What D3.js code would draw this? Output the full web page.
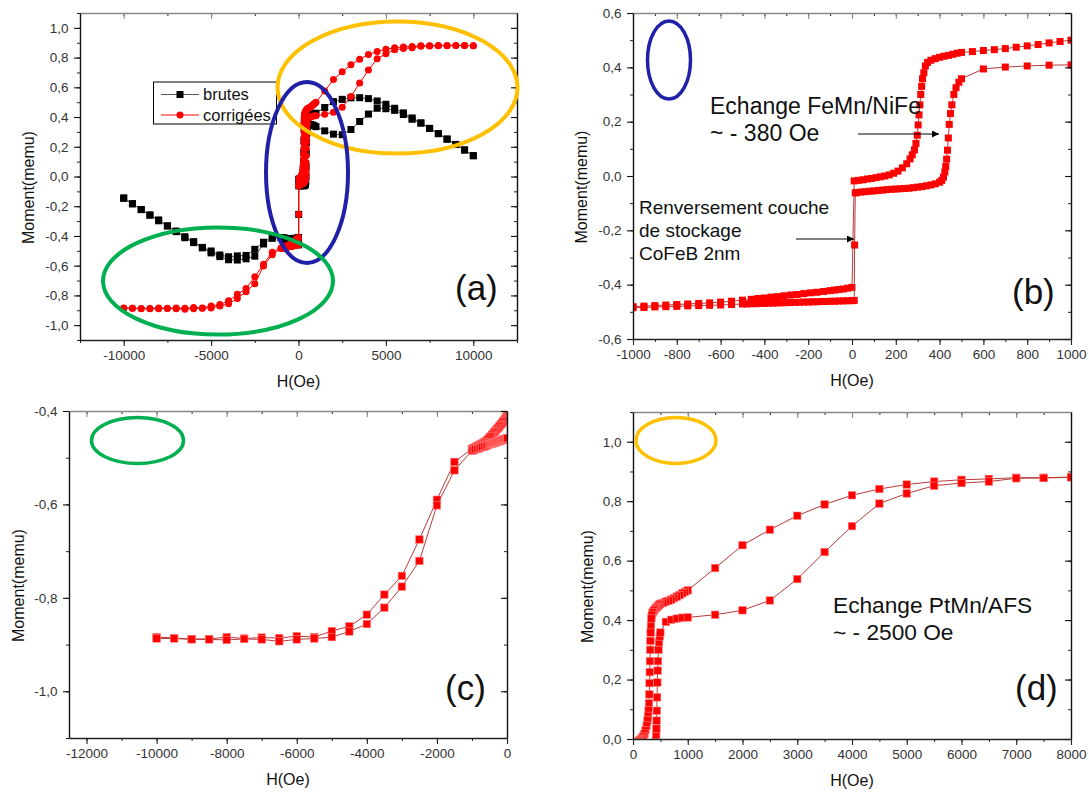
<!DOCTYPE html>
<html><head><meta charset="utf-8">
<script src="https://cdn.jsdelivr.net/npm/d3@7"></script>
<style>
html,body{margin:0;padding:0;background:#fff;}
svg{display:block;font-family:"Liberation Sans",Arial,Helvetica,sans-serif;}
</style></head><body>
<svg id="fig" width="1089" height="792"></svg>
<script>
// ---------- corrected data (descending branch: +10000 -> -10000) ----------
const descH = [10000,9500,9000,8500,8000,7500,7000,6500,6000,5500,5000,4500,4000,3500,3000,2500,2000,1500,1000,
  950,900,850,800,750,700,650,600,550,500,
  480,460,440,420,400,380,360,
  345,335,328,322,318,314,310,306,302,298,292,285,275,265,250,230,210,190,170,150,130,110,90,70,50,30,10,
  0,-20,-40,-60,-80,-100,
  -130,-160,-190,-220,-250,-280,-310,-340,-370,-400,-430,-460,-500,
  -550,-600,-650,-700,-750,-800,-850,-900,-950,-1000,
  -1500,-2000,-2500,-3000,-3500,-4000,-4500,-5000,-5500,-6000,-6500,-7000,-7500,-8000,-8500,-9000,-9500,-10000];
const descM = [0.880,0.882,0.882,0.881,0.881,0.879,0.879,0.875,0.872,0.866,0.856,0.841,0.820,0.789,0.751,0.704,0.652,0.575,0.500,
  0.495,0.490,0.484,0.479,0.474,0.469,0.465,0.462,0.458,0.455,
  0.452,0.448,0.444,0.441,0.437,0.432,0.426,
  0.418,0.405,0.380,0.358,0.330,0.300,0.262,0.225,0.188,0.150,0.120,0.096,0.078,0.063,0.045,0.030,0.018,0.010,0.004,0.000,-0.003,-0.006,-0.009,-0.011,-0.014,-0.016,-0.018,
  -0.410,-0.413,-0.416,-0.418,-0.420,-0.422,
  -0.425,-0.428,-0.430,-0.433,-0.436,-0.438,-0.441,-0.444,-0.446,-0.449,-0.451,-0.454,-0.457,
  -0.461,-0.464,-0.467,-0.469,-0.471,-0.473,-0.475,-0.477,-0.479,-0.481,
  -0.509,-0.590,-0.675,-0.753,-0.793,-0.836,-0.861,-0.871,-0.884,-0.882,-0.886,-0.885,-0.887,-0.884,-0.888,-0.888,-0.886,-0.884];

// ---------- corrected data (ascending branch: -10000 -> +10000) ----------
const ascH = [-10000,-9500,-9000,-8500,-8000,-7500,-7000,-6500,-6000,-5500,-5000,-4500,-4000,-3500,-3000,-2500,-2000,-1500,-1000,
  -950,-900,-850,-800,-750,-700,-650,-600,-550,
  -500,-480,-460,-440,-420,-400,-380,-360,-340,-320,-300,-280,-260,-240,-220,-200,-180,-160,-140,-120,-100,-80,-60,-40,-20,0,10,
  12,15,
  20,40,60,80,100,120,140,160,180,200,220,240,260,280,300,320,340,360,380,400,
  410,418,424,428,432,436,440,444,450,456,465,475,488,500,
  600,700,800,900,1000,1500,2000,2500,3000,3500,4000,4500,5000,5500,6000,6500,7000,7500,8000,8500,9000,9500,10000];
const ascM = [-0.887,-0.887,-0.889,-0.889,-0.890,-0.888,-0.889,-0.893,-0.889,-0.887,-0.884,-0.872,-0.856,-0.821,-0.776,-0.721,-0.602,-0.527,-0.485,
  -0.484,-0.482,-0.481,-0.480,-0.478,-0.477,-0.476,-0.475,-0.473,
  -0.471,-0.471,-0.470,-0.470,-0.469,-0.469,-0.468,-0.468,-0.467,-0.467,-0.466,-0.466,-0.465,-0.465,-0.464,-0.464,-0.463,-0.463,-0.462,-0.462,-0.461,-0.461,-0.460,-0.460,-0.459,-0.459,-0.458,
  -0.254,-0.062,
  -0.061,-0.059,-0.058,-0.056,-0.055,-0.053,-0.052,-0.050,-0.049,-0.048,-0.047,-0.046,-0.045,-0.043,-0.041,-0.039,-0.036,-0.033,-0.029,-0.023,
  -0.016,-0.004,0.015,0.035,0.062,0.095,0.140,0.190,0.230,0.262,0.300,0.325,0.345,0.358,
  0.394,0.401,0.405,0.408,0.409,0.418,0.433,0.466,0.538,0.629,0.716,0.792,0.826,0.852,0.861,0.866,0.877,0.878,0.880,0.880,0.881,0.881,0.880];

// ---------- raw data "brutes" (panel a) ----------
const rawDescH = [10000,9500,9000,8500,8000,7500,7000,6500,6000,5500,5000,4500,4000,3500,3000,2500,2000,1500,1000,
  900,800,700,600,500,400,350,330,320,310,300,290,270,240,200,150,100,50,10,
  0,-100,-200,-300,-400,-500,-600,-700,-800,-900,-1000,
  -1500,-2000,-2500,-3000,-3500,-4000,-4500,-5000,-5500,-6000,-6500,-7000,-7500,-8000,-8500,-9000,-9500,-10000];
const rawDescM = [0.140,0.179,0.216,0.252,0.289,0.324,0.361,0.394,0.428,0.459,0.486,0.508,0.524,0.530,0.529,0.519,0.504,0.464,0.426,
  0.423,0.420,0.417,0.418,0.418,0.407,0.395,0.372,0.322,0.240,0.160,0.100,0.055,0.020,-0.002,-0.011,-0.014,-0.017,-0.019,
  -0.410,-0.415,-0.416,-0.419,-0.419,-0.420,-0.420,-0.417,-0.414,-0.412,-0.410,
  -0.405,-0.442,-0.490,-0.531,-0.534,-0.540,-0.528,-0.501,-0.477,-0.438,-0.405,-0.367,-0.332,-0.292,-0.259,-0.222,-0.183,-0.144];
const rawAscH = [-10000,-9500,-9000,-8500,-8000,-7500,-7000,-6500,-6000,-5500,-5000,-4500,-4000,-3500,-3000,-2500,-2000,-1500,-1000,
  -900,-800,-700,-600,-500,-400,-300,-200,-100,0,10,12,15,
  100,200,300,360,400,418,428,436,444,456,475,500,
  600,700,800,900,1000,1500,2000,2500,3000,3500,4000,4500,5000,5500,6000,6500,7000,7500,8000,8500,9000,9500,10000];
const rawAscM = [-0.147,-0.184,-0.223,-0.260,-0.298,-0.333,-0.371,-0.412,-0.445,-0.480,-0.514,-0.539,-0.560,-0.562,-0.554,-0.536,-0.454,-0.416,-0.411,
  -0.415,-0.421,-0.425,-0.431,-0.434,-0.439,-0.444,-0.449,-0.454,-0.459,-0.459,-0.255,-0.063,
  -0.062,-0.063,-0.063,-0.060,-0.053,-0.035,0.003,0.063,0.157,0.228,0.290,0.321,
  0.350,0.349,0.346,0.341,0.335,0.307,0.285,0.281,0.316,0.370,0.420,0.459,0.456,0.445,0.417,0.385,0.359,0.323,0.288,0.251,0.215,0.178,0.140];

// ---------- tick label values ----------
const aXTicks = [-10000,-5000,0,5000,10000];
const aYTicks = [-1.0,-0.8,-0.6,-0.4,-0.2,0,0.2,0.4,0.6,0.8,1.0];
const bXTicks = [-1000,-800,-600,-400,-200,0,200,400,600,800,1000];
const bYTicks = [-0.6,-0.4,-0.2,0,0.2,0.4,0.6];
const cXTicks = [-12000,-10000,-8000,-6000,-4000,-2000,0];
const cYTicks = [-1.0,-0.8,-0.6,-0.4];
const dXTicks = [0,1000,2000,3000,4000,5000,6000,7000,8000];
const dYTicks = [0,0.2,0.4,0.6,0.8,1.0];

const legendLabels = ["brutes","corrigées"];
const xTitle = "H(Oe)", yTitle = "Moment(memu)";

// ---------- drawing ----------
const svg = d3.select('#fig');
const defs = svg.append('defs');
defs.append('marker').attr('id','arrowHead').attr('viewBox','0 0 10 10').attr('refX',10).attr('refY',5)
  .attr('markerWidth',10).attr('markerHeight',7).attr('markerUnits','userSpaceOnUse').attr('orient','auto')
  .append('path').attr('d','M0,0 L10,5 L0,10 Z').attr('fill','#000');

const fmtY = v => Math.abs(v) < 1e-9 ? '0,0' : v.toFixed(1).replace('.', ',');
const fmtX = v => String(Math.round(v));
const minorRange = (a, b, s) => d3.range(Math.round(a / s), Math.round(b / s) + 1).map(i => i * s);

function drawPanel(p) {
  const x = d3.scaleLinear().domain(p.xDomain).range(p.xRange);
  const y = d3.scaleLinear().domain(p.yDomain).range(p.yRange);
  const [xl, xr] = p.xRange, [yb, yt] = p.yRange;
  const g = svg.append('g');
  const clipId = 'clip-' + p.name;
  defs.append('clipPath').attr('id', clipId).append('rect')
    .attr('x', xl).attr('y', yt).attr('width', xr - xl).attr('height', yb - yt);
  const dg = g.append('g').attr('clip-path', `url(#${clipId})`);
  p.series.forEach(s => {
    const pts = d3.zip(s.h, s.m);
    dg.append('path').datum(pts)
      .attr('d', d3.line().x(d => x(d[0])).y(d => y(d[1])))
      .attr('fill', 'none').attr('stroke', s.lineColor).attr('stroke-width', s.lineWidth);
    const mg = dg.append('g');
    if (s.marker === 'circle') {
      mg.selectAll('circle').data(pts).join('circle')
        .attr('cx', d => x(d[0])).attr('cy', d => y(d[1])).attr('r', s.size / 2).attr('fill', s.color);
    } else {
      mg.selectAll('rect').data(pts).join('rect')
        .attr('x', d => x(d[0]) - s.size / 2).attr('y', d => y(d[1]) - s.size / 2)
        .attr('width', s.size).attr('height', s.size).attr('fill', s.color)
        .attr('stroke', s.stroke || 'none').attr('stroke-width', 0.6);
    }
  });

  const xMinor = minorRange(p.xDomain[0], p.xDomain[1], p.xMinorStep);
  const yMinor = minorRange(p.yDomain[0], p.yDomain[1], p.yMinorStep);
  const styleAxis = (sel, color) => {
    sel.attr('font-size', 13.5).attr('font-family', null).attr('color', color);
    sel.selectAll('text').attr('fill', '#333');
    sel.selectAll('line').attr('stroke-width', 1.1);
    sel.select('.domain').attr('stroke-width', 1.4);
  };
  // minor ticks
  [[d3.axisBottom(x).tickValues(xMinor).tickSize(3), `translate(0,${yb})`],
   [d3.axisTop(x).tickValues(xMinor).tickSize(-3), `translate(0,${yt})`],
   [d3.axisLeft(y).tickValues(yMinor).tickSize(3), `translate(${xl},0)`],
   [d3.axisRight(y).tickValues(yMinor).tickSize(-3), `translate(${xr},0)`]].forEach(([ax, tr]) => {
    const a = g.append('g').attr('transform', tr).call(ax.tickFormat(''));
    a.select('.domain').remove();
    a.attr('color', '#222'); a.selectAll('line').attr('stroke-width', 1);
  });
  // major axes
  g.append('g').attr('transform', `translate(0,${yt})`)
    .call(d3.axisTop(x).tickValues(p.xTicks).tickSizeInner(-6).tickSizeOuter(0).tickFormat(''))
    .call(s => styleAxis(s, '#888'));
  g.append('g').attr('transform', `translate(${xr},0)`)
    .call(d3.axisRight(y).tickValues(p.yTicks).tickSizeInner(-6).tickSizeOuter(0).tickFormat(''))
    .call(s => styleAxis(s, '#111'));
  g.append('g').attr('transform', `translate(0,${yb})`)
    .call(d3.axisBottom(x).tickValues(p.xTicks).tickSizeInner(6).tickSizeOuter(0).tickPadding(4.5).tickFormat(fmtX))
    .call(s => styleAxis(s, '#222'));
  g.append('g').attr('transform', `translate(${xl},0)`)
    .call(d3.axisLeft(y).tickValues(p.yTicks).tickSizeInner(6).tickSizeOuter(0).tickPadding(5.5).tickFormat(fmtY))
    .call(s => styleAxis(s, '#111'));

  // titles
  g.append('text').attr('x', (xl + xr) / 2).attr('y', yb + 47).attr('text-anchor', 'middle')
    .attr('font-size', 16).attr('fill', '#111').text(xTitle);
  g.append('text').attr('transform', `translate(${p.yTitleX},${(yb + yt) / 2 + 11}) rotate(-90)`)
    .attr('text-anchor', 'middle').attr('dy', '0.35em').attr('font-size', 16).attr('fill', '#111').text(yTitle);
  return { x, y, g };
}

const redLine = '#b83a3a';
const corrB = [
  { h: descH, m: descM, marker: 'square', size: 7, color: '#ff0000', lineColor: redLine, lineWidth: 1 },
  { h: ascH, m: ascM, marker: 'square', size: 7, color: '#ff0000', lineColor: redLine, lineWidth: 1 }];
const corrCD = [
  { h: descH, m: descM, marker: 'square', size: 7.5, color: '#ff0000', stroke: '#ff8080', lineColor: redLine, lineWidth: 1 },
  { h: ascH, m: ascM, marker: 'square', size: 7.5, color: '#ff0000', stroke: '#ff8080', lineColor: redLine, lineWidth: 1 }];

// Panel (a)
drawPanel({
  name: 'a', xDomain: [-12500, 12500], xRange: [80, 517], yDomain: [-1.1, 1.1], yRange: [340, 13],
  xTicks: aXTicks, yTicks: aYTicks, xMinorStep: 2500, yMinorStep: 0.1, yTitleX: 28.5,
  series: [
    { h: rawDescH, m: rawDescM, marker: 'square', size: 7, color: '#000', lineColor: '#555', lineWidth: 1 },
    { h: rawAscH, m: rawAscM, marker: 'square', size: 7, color: '#000', lineColor: '#555', lineWidth: 1 },
    { h: descH, m: descM, marker: 'circle', size: 7, color: '#ff0000', lineColor: '#ff0000', lineWidth: 1 },
    { h: ascH, m: ascM, marker: 'circle', size: 7, color: '#ff0000', lineColor: '#ff0000', lineWidth: 1 }]
});
// Panel (b)
drawPanel({
  name: 'b', xDomain: [-1000, 1000], xRange: [633, 1071], yDomain: [-0.6, 0.6], yRange: [339, 13],
  xTicks: bXTicks, yTicks: bYTicks, xMinorStep: 100, yMinorStep: 0.1, yTitleX: 581.5, series: corrB
});
// Panel (c)
drawPanel({
  name: 'c', xDomain: [-12500, 0], xRange: [69, 507], yDomain: [-1.1, -0.4], yRange: [738, 411],
  xTicks: cXTicks, yTicks: cYTicks, xMinorStep: 1000, yMinorStep: 0.1, yTitleX: 18, series: corrCD
});
// Panel (d)
drawPanel({
  name: 'd', xDomain: [0, 8000], xRange: [633, 1071], yDomain: [0, 1.1], yRange: [739, 412],
  xTicks: dXTicks, yTicks: dYTicks, xMinorStep: 500, yMinorStep: 0.1, yTitleX: 587, series: corrCD
});

// Legend (panel a)
const lg = svg.append('g');
lg.append('rect').attr('x', 153.5).attr('y', 82).attr('width', 123).attr('height', 42)
  .attr('fill', '#fff').attr('stroke', '#000').attr('stroke-width', 1);
[[94.5, '#555', 'square', '#000'], [115, '#ff0000', 'circle', '#ff0000']].forEach(([ly, lc, mk, mc], i) => {
  lg.append('line').attr('x1', 161).attr('x2', 199).attr('y1', ly).attr('y2', ly).attr('stroke', lc).attr('stroke-width', 1);
  if (mk === 'square') lg.append('rect').attr('x', 176.5).attr('y', ly - 3.5).attr('width', 7).attr('height', 7).attr('fill', mc);
  else lg.append('circle').attr('cx', 180).attr('cy', ly).attr('r', 3.5).attr('fill', mc);
  lg.append('text').attr('x', 203).attr('y', ly + 5.5).attr('font-size', 16.5).attr('fill', '#111').text(legendLabels[i]);
});

// Panel letters
[['(a)', 455, 300], ['(b)', 1012, 304], ['(c)', 445, 700], ['(d)', 1015, 700]].forEach(([t, x, y]) => {
  svg.append('text').attr('x', x).attr('y', y).attr('font-size', 35).attr('fill', '#111').text(t);
});

// Annotations
const ann = [
  ['Echange FeMn/NiFe', 710, 114, 23], ['~ - 380 Oe', 710, 140.5, 23],
  ['Renversement couche', 639, 214, 19], ['de stockage', 639, 237, 19], ['CoFeB 2nm', 639, 260, 19],
  ['Echange PtMn/AFS', 833, 612.5, 22.7], ['~ - 2500 Oe', 833, 639.5, 22.7]];
ann.forEach(([t, x, y, fs]) => svg.append('text').attr('x', x).attr('y', y).attr('font-size', fs).attr('fill', '#111').text(t));
[[858, 134, 939, 134], [796, 239, 854, 239]].forEach(([x1, y1, x2, y2]) => {
  svg.append('line').attr('x1', x1).attr('y1', y1).attr('x2', x2).attr('y2', y2)
    .attr('stroke', '#000').attr('stroke-width', 1).attr('marker-end', 'url(#arrowHead)');
});

// Highlight ellipses
const ell = [
  [397.5, 87.5, 120, 66, '#FFC000', 4], [307, 172.5, 41, 90.5, '#2020A8', 4], [218, 281, 115, 53.5, '#00B050', 4],
  [669, 60, 21.5, 39, '#2020A8', 3.5], [137.5, 440.5, 46, 23, '#00B050', 3.5], [676, 440.5, 40, 23, '#FFC000', 3.5]];
ell.forEach(([cx, cy, rx, ry, c, w]) => svg.append('ellipse').attr('cx', cx).attr('cy', cy).attr('rx', rx).attr('ry', ry)
  .attr('fill', 'none').attr('stroke', c).attr('stroke-width', w));
</script>
</body></html>
